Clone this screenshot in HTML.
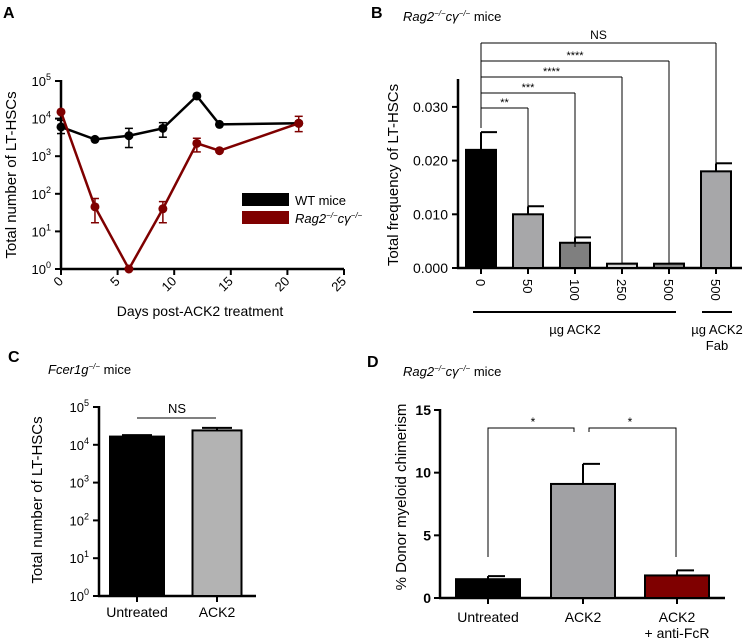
<!DOCTYPE html>
<html><head><meta charset="utf-8"><style>
body{margin:0;background:#fff}
svg{display:block;font-family:"Liberation Sans",Arial,sans-serif}
</style></head><body>
<svg id="fig" width="747" height="643" viewBox="0 0 747 643" xmlns="http://www.w3.org/2000/svg"></svg>
<script>
// ---- Panel A data ----
const aDays = [0, 3, 6, 9, 12, 14, 21];
const aWT = [6000, 2800, 3500, 5500, 40000, 7000, 7500];
const aWTlo = [4000, 2800, 1700, 3200, 40000, 7000, 7500];
const aWThi = [9000, 2800, 5500, 7800, 40000, 7000, 7500];
const aRag = [15000, 45, 1, 40, 2200, 1400, 7500];
const aRaglo = [15000, 17, 1, 17, 1300, 1400, 4500];
const aRaghi = [15000, 75, 1, 62, 3000, 1400, 11500];
const aXTicks = [0, 5, 10, 15, 20, 25];
const aYTicks = [0, 1, 2, 3, 4, 5];
// ---- Panel B data ----
const bCats = ["0", "50", "100", "250", "500", "500"];
const bVals = [0.022, 0.010, 0.0047, 0.0008, 0.0008, 0.018];
const bErr = [0.0033, 0.0015, 0.001, 0.0001, 0.0001, 0.0015];
const bColors = ["#000000", "#a7a7a9", "#7f7f7f", "#d4d4d4", "#858585", "#a7a7a9"];
const bYTicks = [0, 0.01, 0.02, 0.03];
const bSig = ["**", "***", "****", "****", "NS"];
// ---- Panel C data ----
const cCats = ["Untreated", "ACK2"];
const cVals = [16500, 24000];
const cHi = [18000, 28000];
const cColors = ["#000000", "#b3b3b3"];
// ---- Panel D data ----
const dCats = ["Untreated", "ACK2", "ACK2"];
const dVals = [1.5, 9.1, 1.8];
const dHi = [1.75, 10.7, 2.2];
const dColors = ["#000000", "#a1a1a4", "#7f0000"];
const dYTicks = [0, 5, 10, 15];

const NS = "http://www.w3.org/2000/svg";
const svg = document.getElementById("fig");
function mk(tag, attrs, parent, text) {
  const e = document.createElementNS(NS, tag);
  for (const k in attrs) e.setAttribute(k, attrs[k]);
  if (text !== undefined) e.textContent = text;
  (parent || svg).appendChild(e);
  return e;
}
function line(x1, y1, x2, y2, w, c, p) { return mk("line", {x1, y1, x2, y2, stroke: c || "#000", "stroke-width": w || 2}, p); }
function txt(x, y, s, attrs, p) { return mk("text", Object.assign({x, y, "font-size": 13, fill: "#000"}, attrs || {}), p, s); }
function pow10(x, y, e, p) {
  const t = txt(x, y, "10", {"text-anchor": "end", "font-size": 13}, p);
  const ts = mk("tspan", {dy: -6, "font-size": 9}, t, String(e));
  return t;
}

// ================= Panel A =================
const gA = mk("g", {});


const axA = x => 61 + x * (283 / 25);
const ayA = v => 269 - Math.log10(v) * 37.6;
let t = txt(3, 18, "A", {"font-size": 16, "font-weight": "bold"}, gA);
 
line(61, 80, 61, 270, 2.5, "#000", gA);
line(60, 269, 344, 269, 2.5, "#000", gA);
aYTicks.forEach(e => { line(55, ayA(Math.pow(10, e)), 61, ayA(Math.pow(10, e)), 2, "#000", gA); const tt = pow10(51, ayA(Math.pow(10, e)) + 5, e, gA);   });
aXTicks.forEach(d => {
  const x = axA(d); line(x, 269, x, 275, 2, "#000", gA);
  const tt = txt(x + 3, 282, String(d), {"text-anchor": "end", transform: `rotate(-45 ${x + 3} 282)`, "font-size": 13}, gA);
   
});
t = txt(200, 316, "Days post-ACK2 treatment", {"text-anchor": "middle", "font-size": 14}, gA);
 
t = txt(16, 175, "Total number of LT-HSCs", {"text-anchor": "middle", "font-size": 15, transform: "rotate(-90 16 175)"}, gA);
 
function series(vals, lo, hi, color, name) {
  const g = mk("g", {}, gA);
  
  
  mk("polyline", {points: aDays.map((d, i) => axA(d) + "," + ayA(vals[i])).join(" "), fill: "none", stroke: color, "stroke-width": 2.5}, g);
  aDays.forEach((d, i) => {
    const x = axA(d);
    if (hi[i] !== lo[i]) {
      line(x, ayA(hi[i]), x, ayA(lo[i]), 1.5, color, g);
      line(x - 4, ayA(hi[i]), x + 4, ayA(hi[i]), 1.5, color, g);
      line(x - 4, ayA(lo[i]), x + 4, ayA(lo[i]), 1.5, color, g);
    }
    const c = mk("circle", {cx: x, cy: ayA(vals[i]), r: 4.5, fill: color}, g);
    
    
  });
}
series(aWT, aWTlo, aWThi, "#000", "wt-series");
series(aRag, aRaglo, aRaghi, "#7f0000", "rag2-series");
const leg = mk("g", {}, gA);


mk("rect", {x: 242, y: 193, width: 47, height: 13, fill: "#000"}, leg);
txt(295, 205, "WT mice", {"font-size": 13}, leg);
mk("rect", {x: 242, y: 211, width: 47, height: 13, fill: "#7f0000"}, leg);
t = txt(295, 223, "Rag2", {"font-size": 13, "font-style": "italic"}, leg);
mk("tspan", {dy: -5, "font-size": 8}, t, "−/−");
mk("tspan", {dy: 5}, t, "cγ");
mk("tspan", {dy: -5, "font-size": 8}, t, "−/−");

// ================= Panel B =================
const gB = mk("g", {});


const ayB = v => 268 - v * 5370;
const bxC = i => 481 + i * 47;
t = txt(371, 18, "B", {"font-size": 16, "font-weight": "bold"}, gB);
 
t = txt(403, 21, "Rag2", {"font-size": 13, "font-style": "italic"}, gB);
mk("tspan", {dy: -5, "font-size": 8}, t, "−/−");
mk("tspan", {dy: 5}, t, "cγ");
mk("tspan", {dy: -5, "font-size": 8}, t, "−/−");
mk("tspan", {dy: 5, "font-style": "normal"}, t, " mice");
 
line(458, 79, 458, 269, 2.5, "#000", gB);
line(457, 268, 742, 268, 2.5, "#000", gB);
bYTicks.forEach(v => { line(452, ayB(v), 458, ayB(v), 2, "#000", gB); const tt = txt(448, ayB(v) + 5, v.toFixed(3), {"text-anchor": "end", "font-size": 14}, gB);   });
t = txt(398, 175, "Total frequency of LT-HSCs", {"text-anchor": "middle", "font-size": 15, transform: "rotate(-90 398 175)"}, gB);
 
bVals.forEach((v, i) => {
  const c = bxC(i);
  const top = bErr[i] > 0.0002 ? ayB(v + bErr[i]) : ayB(v);
  line(c, top, c, ayB(v), 2, "#000", gB);
  line(c, top, c + 16, top, 2, "#000", gB);
  const r = mk("rect", {x: c - 15, y: ayB(v), width: 30, height: 268 - ayB(v), fill: bColors[i], stroke: "#000", "stroke-width": 2}, gB);
  
  
  line(c, 268, c, 274, 2, "#000", gB);
  const tt = txt(c - 5, 279, bCats[i], {transform: `rotate(90 ${c - 5} 279)`, "font-size": 13}, gB);
   
});
// brackets
const bBrY = [108, 93, 77, 61, 43];
const bBrEnd = [206, 247, 264, 264, 163];
bSig.forEach((s, k) => {
  const i = k + 1, y = bBrY[k];
  const g = mk("g", {}, gB);
  
  
  line(bxC(0), y, bxC(i), y, 1, "#000", g);
  line(bxC(i), y, bxC(i), bBrEnd[k], 1, "#000", g);
  txt((bxC(0) + bxC(i)) / 2, y - (s === "NS" ? 4 : 2), s, {"text-anchor": "middle", "font-size": s === "NS" ? 12 : 11}, g);
});
line(481, 43, 481, 128, 1, "#000", gB);
line(473, 312, 676, 312, 2, "#000", gB);
line(702, 312, 732, 312, 2, "#000", gB);
t = txt(575, 334, "µg ACK2", {"text-anchor": "middle", "font-size": 13}, gB);
 
t = txt(717, 334, "µg ACK2", {"text-anchor": "middle", "font-size": 13}, gB);
 
txt(717, 350, "Fab", {"text-anchor": "middle", "font-size": 13}, gB);

// ================= Panel C =================
const gC = mk("g", {});


const ayC = v => 596 - Math.log10(v) * 37.8;
const cX = [137, 217], cW = [54, 49];
t = txt(8, 362, "C", {"font-size": 16, "font-weight": "bold"}, gC);
 
t = txt(48, 374, "Fcer1g", {"font-size": 13, "font-style": "italic"}, gC);
mk("tspan", {dy: -5, "font-size": 8}, t, "−/−");
mk("tspan", {dy: 5, "font-style": "normal"}, t, " mice");
 
line(99, 406, 99, 597, 2.5, "#000", gC);
line(98, 596, 256, 596, 2.5, "#000", gC);
aYTicks.forEach(e => { line(93, ayC(Math.pow(10, e)), 99, ayC(Math.pow(10, e)), 2, "#000", gC); const tt = pow10(89, ayC(Math.pow(10, e)) + 5, e, gC);   });
t = txt(42, 500, "Total number of LT-HSCs", {"text-anchor": "middle", "font-size": 15, transform: "rotate(-90 42 500)"}, gC);
 
cVals.forEach((v, i) => {
  const c = cX[i];
  line(c, ayC(cHi[i]), c, ayC(v), 2, "#000", gC);
  line(c - 15, ayC(cHi[i]), c + 15, ayC(cHi[i]), 2, "#000", gC);
  const r = mk("rect", {x: c - cW[i] / 2, y: ayC(v), width: cW[i], height: 596 - ayC(v), fill: cColors[i], stroke: "#000", "stroke-width": 2}, gC);
  
  
  line(c, 596, c, 602, 2, "#000", gC);
  const tt = txt(c, 617, cCats[i], {"text-anchor": "middle", "font-size": 14}, gC);
   
});
line(137, 418, 216, 418, 1, "#000", gC);
txt(177, 413, "NS", {"text-anchor": "middle", "font-size": 13}, gC);

// ================= Panel D =================
const gD = mk("g", {});


const ayD = v => 598 - v * (188 / 15);
const dX = [488, 583, 677];
t = txt(367, 367, "D", {"font-size": 16, "font-weight": "bold"}, gD);
 
t = txt(403, 376, "Rag2", {"font-size": 13, "font-style": "italic"}, gD);
mk("tspan", {dy: -5, "font-size": 8}, t, "−/−");
mk("tspan", {dy: 5}, t, "cγ");
mk("tspan", {dy: -5, "font-size": 8}, t, "−/−");
mk("tspan", {dy: 5, "font-style": "normal"}, t, " mice");
 
line(440, 409, 440, 599, 2.5, "#000", gD);
line(439, 598, 725, 598, 2.5, "#000", gD);
dYTicks.forEach(v => { line(434, ayD(v), 440, ayD(v), 2, "#000", gD); const tt = txt(431, ayD(v) + 5, String(v), {"text-anchor": "end", "font-size": 14, "font-weight": "bold"}, gD);   });
t = txt(406, 497, "% Donor myeloid chimerism", {"text-anchor": "middle", "font-size": 15, transform: "rotate(-90 406 497)"}, gD);
 
dVals.forEach((v, i) => {
  const c = dX[i];
  line(c, ayD(dHi[i]), c, ayD(v), 2, "#000", gD);
  line(c, ayD(dHi[i]), c + 17, ayD(dHi[i]), 2, "#000", gD);
  const r = mk("rect", {x: c - 32, y: ayD(v), width: 64, height: 598 - ayD(v), fill: dColors[i], stroke: "#000", "stroke-width": 2}, gD);
  
  
  line(c, 598, c, 604, 2, "#000", gD);
  const tt = txt(c, 622, dCats[i], {"text-anchor": "middle", "font-size": 14}, gD);
   
});
txt(677, 638, "+ anti-FcR", {"text-anchor": "middle", "font-size": 14}, gD);
let g2 = mk("g", {}, gD);


mk("polyline", {points: "488,557 488,428 574,428 574,432", fill: "none", stroke: "#000", "stroke-width": 1}, g2);
txt(533, 426, "*", {"text-anchor": "middle", "font-size": 12}, g2);
g2 = mk("g", {}, gD);


mk("polyline", {points: "589,432 589,428 676,428 676,557", fill: "none", stroke: "#000", "stroke-width": 1}, g2);
txt(630, 426, "*", {"text-anchor": "middle", "font-size": 12}, g2);
</script>
</body></html>
